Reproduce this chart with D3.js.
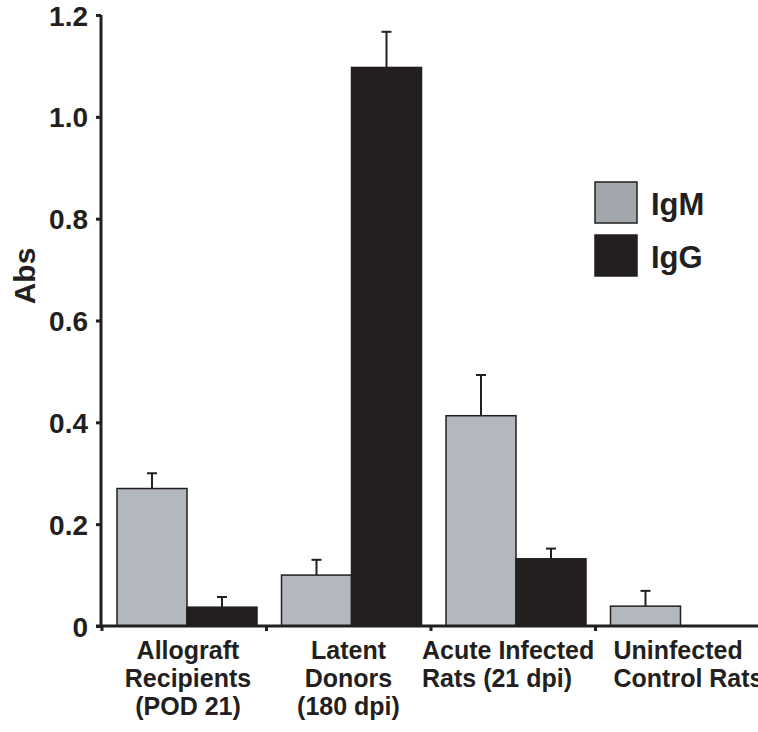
<!DOCTYPE html>
<html lang="en">
<head>
<meta charset="UTF-8">
<title>Abs IgM IgG</title>
<style>
  body { margin: 0; background: #fff; }
  svg text { font-family: "Liberation Sans", Arial, sans-serif; font-weight: bold; fill: #231f20; }
</style>
</head>
<body>
<script src="https://d3js.org/d3.v7.min.js"></script>
<script>
const categories = ["Allograft", "Latent", "Acute", "Uninfected"];
const labelLines = [
    ["Allograft", "Recipients", "(POD 21)"],
    ["Latent", "Donors", "(180 dpi)"],
    ["Acute Infected", "Rats (21 dpi)"],
    ["Uninfected", "Control Rats"]
];
const series = ["IgM", "IgG"];
const igm = [0.27, 0.10, 0.413, 0.039];
const igmErr = [0.03, 0.03, 0.08, 0.03];
const igg = [0.037, 1.097, 0.132, 0];
const iggErr = [0.02, 0.07, 0.02, 0];
const yTicks = [0, 0.2, 0.4, 0.6, 0.8, 1.0, 1.2];

const w = 758, h = 732;
const ink = "#231f20";
const colors = { IgM: "#b3b7be", IgG: ink };

const svg = d3.select("body").append("svg")
    .attr("width", w)
    .attr("height", h);

const x = d3.scaleBand().domain(categories).range([102, 760]);
const x1 = d3.scaleBand().domain(series).range([15, 155]);
const y = d3.scaleLinear().domain([0, 1.2]).range([626, 15]);

const rows = categories.map((c, i) => ({
    cat: c,
    vals: [
        { s: "IgM", v: igm[i], e: igmErr[i] },
        { s: "IgG", v: igg[i], e: iggErr[i] }
    ]
}));

// bars
const g = svg.selectAll("g.grp").data(rows).enter().append("g")
    .attr("class", "grp")
    .attr("transform", d => `translate(${x(d.cat)},0)`);

g.selectAll("rect").data(d => d.vals.filter(v => v.v > 0)).enter().append("rect")
    .attr("x", d => x1(d.s))
    .attr("y", d => y(d.v))
    .attr("width", x1.bandwidth())
    .attr("height", d => y(0) - y(d.v))
    .attr("fill", d => colors[d.s])
    .attr("stroke", ink)
    .attr("stroke-width", 1.5);

// error bars
const eb = g.selectAll("g.err").data(d => d.vals.filter(v => v.e > 0)).enter().append("g")
    .attr("class", "err")
    .attr("stroke", ink)
    .attr("stroke-width", 2);
eb.append("line")
    .attr("x1", d => x1(d.s) + x1.bandwidth() / 2)
    .attr("x2", d => x1(d.s) + x1.bandwidth() / 2)
    .attr("y1", d => y(d.v))
    .attr("y2", d => y(d.v + d.e));
eb.append("line")
    .attr("x1", d => x1(d.s) + x1.bandwidth() / 2 - 5)
    .attr("x2", d => x1(d.s) + x1.bandwidth() / 2 + 5)
    .attr("y1", d => y(d.v + d.e))
    .attr("y2", d => y(d.v + d.e));

// y axis
const yAxis = svg.append("g")
    .attr("transform", "translate(101,0)")
    .call(d3.axisLeft(y).tickValues(yTicks).tickSize(5).tickPadding(8)
        .tickFormat(d => d === 0 ? "0" : d3.format(".1f")(d)));
yAxis.select(".domain").attr("stroke", ink).attr("stroke-width", 3).attr("d", `M0,${y(1.2)}V${y(0) + 1.5}`);
yAxis.selectAll(".tick line").attr("stroke", ink).attr("stroke-width", 3);
yAxis.selectAll(".tick text").style("font-size", "28px").attr("dy", "0.36em");

// x axis
svg.append("line")
    .attr("x1", 96).attr("x2", w)
    .attr("y1", y(0)).attr("y2", y(0))
    .attr("stroke", ink).attr("stroke-width", 3);
svg.selectAll("line.xt").data(categories).enter().append("line")
    .attr("class", "xt")
    .attr("x1", d => x(d)).attr("x2", d => x(d))
    .attr("y1", y(0)).attr("y2", y(0) + 5)
    .attr("stroke", ink).attr("stroke-width", 3);

// category labels
const anchors = [
    { a: "middle", dx: 86 },
    { a: "middle", dx: 82 },
    { a: "start", dx: -9 },
    { a: "start", dx: 18 }
];
categories.forEach((c, i) => {
    const t = svg.append("text")
        .attr("text-anchor", anchors[i].a)
        .style("font-size", "25px");
    labelLines[i].forEach((line, j) => {
        t.append("tspan")
            .attr("x", x(c) + anchors[i].dx)
            .attr("y", 659 + j * 28)
            .text(line);
    });
});

// y label
svg.append("text")
    .attr("transform", "translate(35,276) rotate(-90)")
    .attr("text-anchor", "middle")
    .style("font-size", "30px")
    .text("Abs");

// legend
const legend = svg.append("g").attr("transform", "translate(595,182)");
const lg = legend.selectAll("g").data(series).enter().append("g")
    .attr("transform", (d, i) => `translate(0,${i * 53})`);
lg.append("rect")
    .attr("width", 42).attr("height", 41)
    .attr("fill", d => d === "IgM" ? "#a2a7ae" : ink)
    .attr("stroke", ink).attr("stroke-width", 1.5);
lg.append("text")
    .attr("x", 56).attr("y", 33)
    .style("font-size", "31px")
    .text(d => d);
</script>
</body>
</html>
